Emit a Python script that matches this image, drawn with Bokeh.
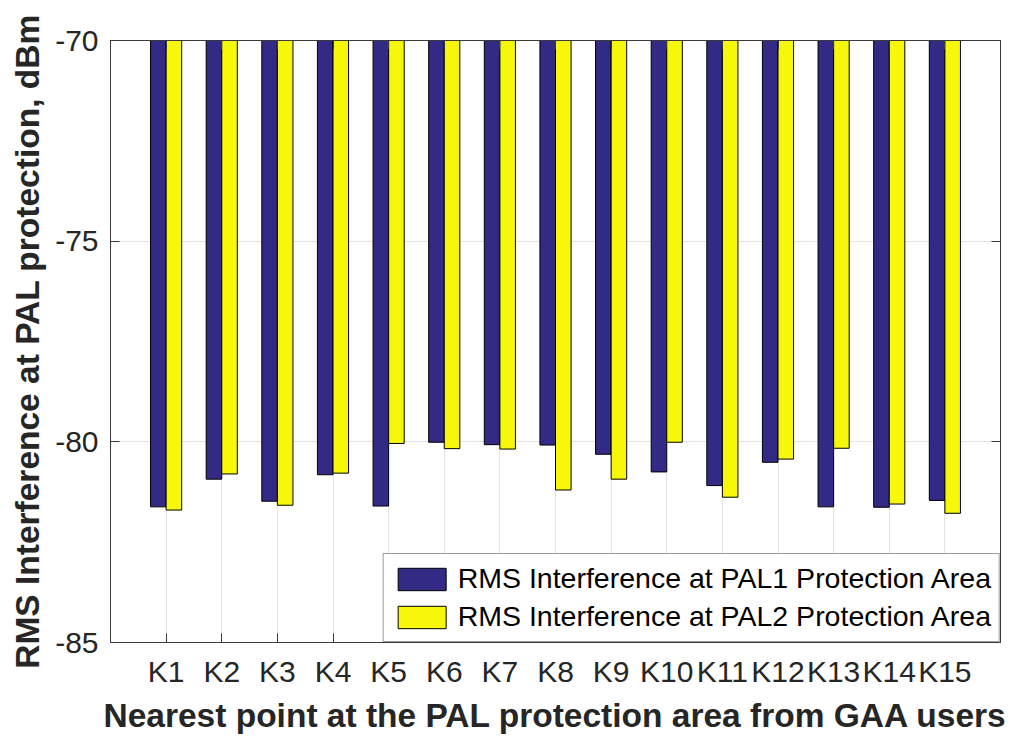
from bokeh.plotting import figure
from bokeh.models import (Range1d, FixedTicker, LinearAxis, Legend, LegendItem,
                          ColumnDataSource)
from bokeh.transform import dodge
from bokeh.embed import file_html
from bokeh.resources import INLINE

# RMS interference (dBm) at the two PAL protection areas, per nearest point
points = ["K1", "K2", "K3", "K4", "K5", "K6", "K7", "K8",
          "K9", "K10", "K11", "K12", "K13", "K14", "K15"]
pal1 = [-81.62, -80.93, -81.48, -80.82, -81.60, -80.01, -80.07, -80.08,
        -80.31, -80.75, -81.09, -80.51, -81.62, -81.63, -81.46]
pal2 = [-81.70, -80.80, -81.58, -80.78, -80.04, -80.17, -80.18, -81.20,
        -80.93, -80.01, -81.38, -80.43, -80.16, -81.55, -81.78]
y_ticks = [-85, -80, -75, -70]
series_names = ["RMS Interference at PAL1 Protection Area",
                "RMS Interference at PAL2 Protection Area"]

BASELINE = 0.0  # bars grow from 0 dBm, clipped by the axes box
FONT = "Liberation Sans"
TEXT = "#262626"
AXIS = "#3a3a3a"
BLUE = "#332a86"
YELLOW = "#f7f70a"

xs = list(range(1, len(points) + 1))
src = ColumnDataSource(dict(x=xs, pal1=pal1, pal2=pal2,
                            base=[BASELINE] * len(xs)))

p = figure(width=1019, height=738, output_backend="svg", toolbar_location=None,
           x_range=Range1d(0, len(points) + 1), y_range=Range1d(-85, -70),
           min_border_left=110, min_border_right=19, min_border_top=40,
           min_border_bottom=96)

r1 = p.vbar(x=dodge("x", -0.14), width=0.28, top="base", bottom="pal1",
            source=src, fill_color=BLUE, line_color="black", line_width=1)
r2 = p.vbar(x=dodge("x", 0.14), width=0.28, top="base", bottom="pal2",
            source=src, fill_color=YELLOW, line_color="black", line_width=1)

x_labels = {x: name for x, name in zip(xs, points)}
y_labels = {t: "%d" % t for t in y_ticks}  # plain hyphen minus
blank_x = {x: "" for x in xs}
blank_y = {t: "" for t in y_ticks}

# Bottom / left axes with inward ticks
xa = p.xaxis[0]
xa.ticker = FixedTicker(ticks=xs)
xa.major_label_overrides = x_labels
ya = p.yaxis[0]
ya.ticker = FixedTicker(ticks=y_ticks)
ya.major_label_overrides = y_labels

for ax in (xa, ya):
    ax.major_tick_in = 9
    ax.major_tick_out = 0
    ax.minor_tick_in = 0
    ax.minor_tick_out = 0
    ax.axis_line_color = AXIS
    ax.major_tick_line_color = AXIS
    ax.major_label_text_font = FONT
    ax.major_label_text_font_size = "30px"
    ax.major_label_text_color = TEXT
    ax.axis_label_text_font = FONT
    ax.axis_label_text_font_size = "33.5px"
    ax.axis_label_text_font_style = "bold"
    ax.axis_label_text_color = TEXT

xa.axis_label = "Nearest point at the PAL protection area from GAA users"
ya.axis_label = "RMS Interference at PAL protection, dBm"
xa.major_label_standoff = 12
xa.axis_label_standoff = 6
ya.major_label_standoff = 12
ya.axis_label_standoff = 6

# Mirror ticks on the top and right sides of the box
top_ax = LinearAxis(ticker=FixedTicker(ticks=xs), major_label_overrides=blank_x)
right_ax = LinearAxis(ticker=FixedTicker(ticks=y_ticks), major_label_overrides=blank_y)
for ax in (top_ax, right_ax):
    ax.major_tick_in = 9
    ax.major_tick_out = 0
    ax.minor_tick_in = 0
    ax.minor_tick_out = 0
    ax.axis_line_color = AXIS
    ax.major_tick_line_color = AXIS
    ax.major_label_standoff = 0
    ax.major_label_text_font_size = "1px"
p.add_layout(top_ax, "above")
p.add_layout(right_ax, "right")

p.xgrid.ticker = FixedTicker(ticks=xs)
p.ygrid.ticker = FixedTicker(ticks=y_ticks)
for g in (p.xgrid[0], p.ygrid[0]):
    g.grid_line_color = "#e2e2e2"
    g.grid_line_width = 1

p.outline_line_color = AXIS
p.outline_line_width = 1
p.background_fill_color = "white"
p.border_fill_color = "white"

legend = Legend(items=[LegendItem(label=series_names[0], renderers=[r1]),
                       LegendItem(label=series_names[1], renderers=[r2])],
                location="bottom_right")
legend.margin = 0
legend.padding = 8
legend.spacing = 5
legend.glyph_width = 60
legend.glyph_height = 28
legend.label_height = 28
legend.label_standoff = 6
legend.label_text_font = FONT
legend.label_text_font_size = "28.5px"
legend.label_text_color = "black"
legend.border_line_color = AXIS
legend.border_line_width = 1
legend.background_fill_color = "white"
legend.background_fill_alpha = 1
p.add_layout(legend)

open("out.html", "w").write(file_html(p, INLINE))
